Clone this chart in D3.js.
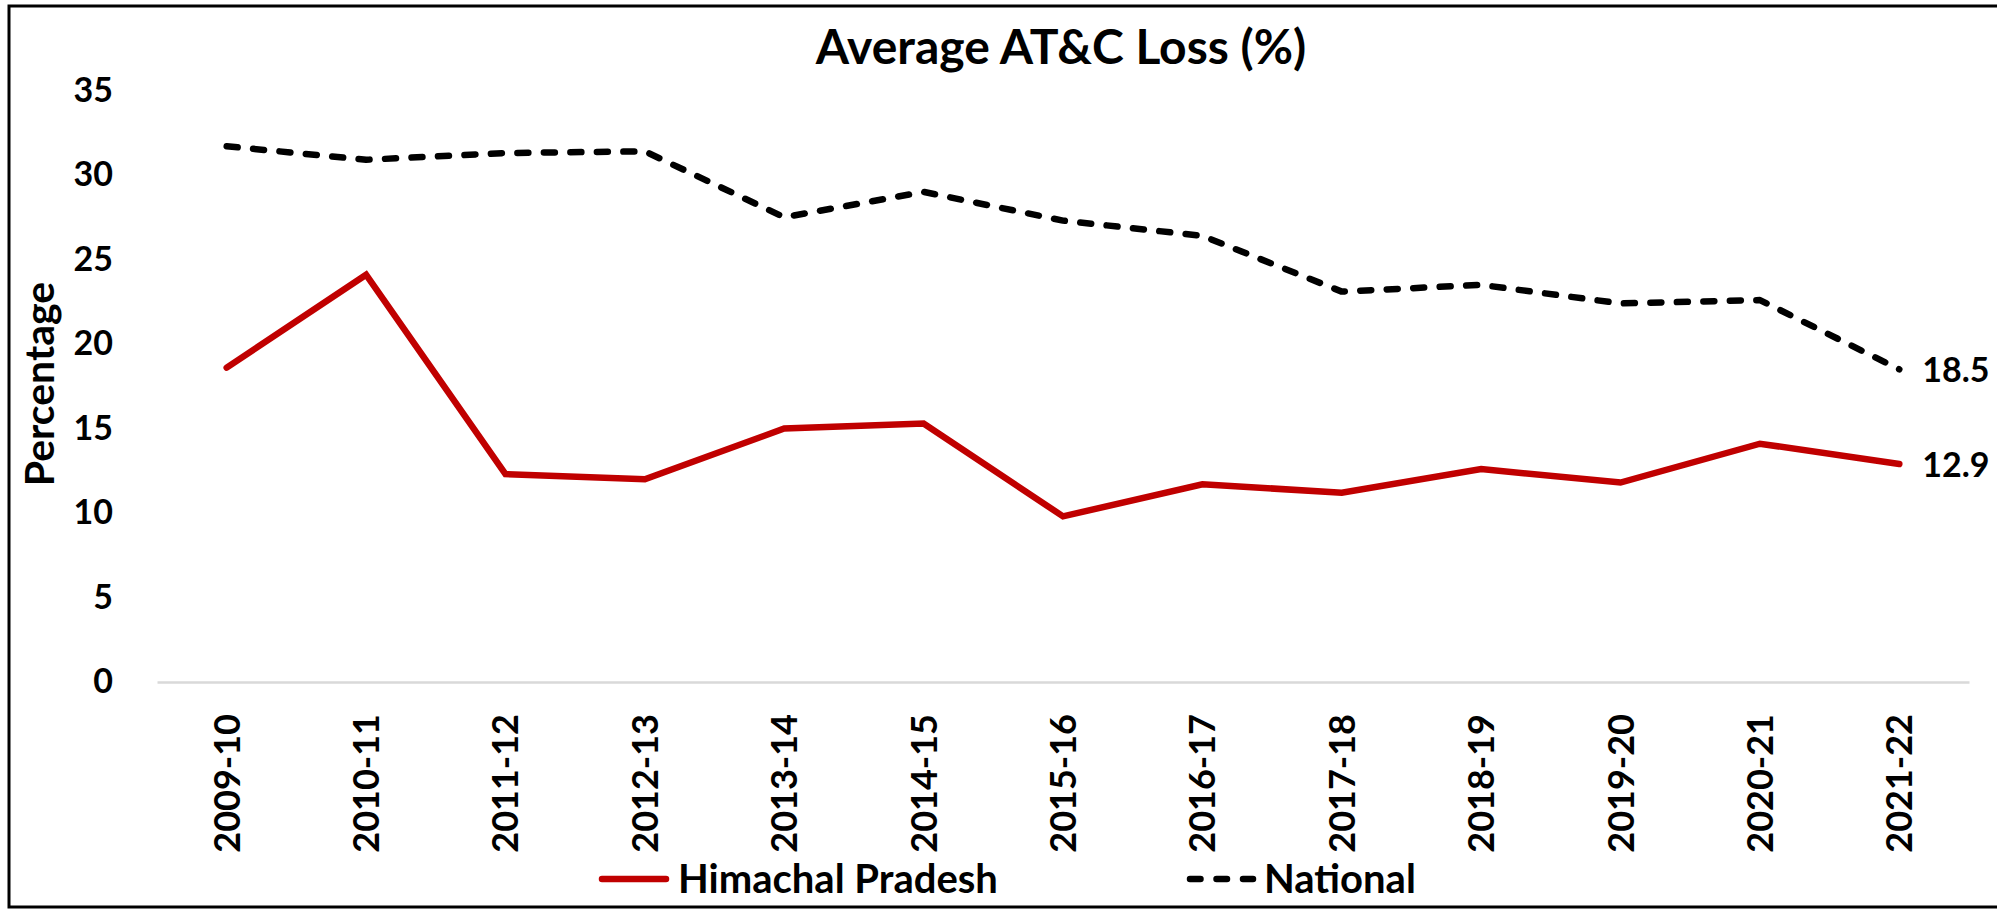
<!DOCTYPE html>
<html>
<head>
<meta charset="utf-8">
<script src="https://cdn.jsdelivr.net/npm/d3@7/dist/d3.min.js"></script>
<style>
  html, body { margin: 0; padding: 0; background: #ffffff; }
  svg { display: block; }
  text { font-family: "Lato", "Open Sans", sans-serif; font-weight: 700; fill: #000; }
</style>
</head>
<body>
<svg id="chart" width="1997" height="914"></svg>
<script>
// Financial years on the x axis
const categories = ["2009-10", "2010-11", "2011-12", "2012-13", "2013-14", "2014-15",
  "2015-16", "2016-17", "2017-18", "2018-19", "2019-20", "2020-21", "2021-22"];

// Average AT&C loss (%) by series
const himachalPradesh = [18.6, 24.1, 12.3, 12.0, 15.0, 15.3, 9.8, 11.7, 11.2, 12.6, 11.8, 14.1, 12.9];
const national = [31.7, 30.9, 31.3, 31.4, 27.5, 29.0, 27.3, 26.4, 23.1, 23.5, 22.4, 22.6, 18.5];

const yTickValues = [0, 5, 10, 15, 20, 25, 30, 35];
const seriesNames = ["Himachal Pradesh", "National"];

const svg = d3.select("#chart");
const W = 1997, H = 914;

// Outer frame
svg.append("rect")
  .attr("x", 9).attr("y", 6)
  .attr("width", W + 20).attr("height", 901)
  .attr("fill", "none").attr("stroke", "#000").attr("stroke-width", 3);

const plot = { left: 157, right: 1969, top: 90.5, bottom: 682 };

const x = d3.scaleBand().domain(categories).range([plot.left, plot.right]).padding(0);
const y = d3.scaleLinear().domain([0, 35]).range([plot.bottom, plot.top]);
const cx = c => x(c) + x.bandwidth() / 2;

// Title
svg.append("text")
  .attr("x", 1061).attr("y", 64)
  .attr("text-anchor", "middle")
  .attr("font-size", 48)
  .text("Average AT&C Loss (%)");

// Y axis (labels only)
const yAxis = svg.append("g")
  .attr("transform", `translate(${plot.left},0)`)
  .call(d3.axisLeft(y).tickValues(yTickValues).tickSize(0).tickPadding(44));
yAxis.select(".domain").remove();
yAxis.selectAll("text")
  .attr("font-size", 34)
  .attr("font-family", "Lato, sans-serif")
  .attr("font-weight", 700)
  .attr("fill", "#000");

// Y axis title
svg.append("text")
  .attr("transform", "translate(54,384) rotate(-90)")
  .attr("text-anchor", "middle")
  .attr("font-size", 41)
  .text("Percentage");

// X axis
const xAxis = svg.append("g")
  .attr("transform", `translate(0,${plot.bottom})`)
  .call(d3.axisBottom(x).tickSize(0));
xAxis.select(".domain")
  .attr("stroke", "#d9d9d9").attr("stroke-width", 2.5);
xAxis.selectAll("text")
  .attr("transform", "rotate(-90)")
  .attr("x", -32).attr("y", 0).attr("dy", "0.36em")
  .attr("text-anchor", "end")
  .attr("font-size", 36)
  .attr("font-family", "Lato, sans-serif")
  .attr("font-weight", 700)
  .attr("fill", "#000");

// Series lines
const line = d3.line()
  .x((d, i) => cx(categories[i]))
  .y(d => y(d));

svg.append("path")
  .datum(national)
  .attr("d", line)
  .attr("fill", "none")
  .attr("stroke", "#000")
  .attr("stroke-width", 6.5)
  .attr("stroke-linecap", "round")
  .attr("stroke-linejoin", "round")
  .attr("stroke-dasharray", "11,15.5");

svg.append("path")
  .datum(himachalPradesh)
  .attr("d", line)
  .attr("fill", "none")
  .attr("stroke", "#c00000")
  .attr("stroke-width", 6.5)
  .attr("stroke-linecap", "round")
  .attr("stroke-linejoin", "miter");

// End-of-series value labels
const last = categories.length - 1;
[national, himachalPradesh].forEach(vals => {
  svg.append("text")
    .attr("x", cx(categories[last]) + 23)
    .attr("y", y(vals[last]))
    .attr("dy", "0.38em")
    .attr("font-size", 34)
    .text(vals[last].toFixed(1));
});

// Legend
const legend = svg.append("g");
legend.append("line")
  .attr("x1", 602).attr("x2", 666).attr("y1", 879).attr("y2", 879)
  .attr("stroke", "#c00000").attr("stroke-width", 6.5).attr("stroke-linecap", "round");
legend.append("text")
  .attr("x", 678).attr("y", 879).attr("dy", "0.36em")
  .attr("font-size", 40)
  .text(seriesNames[0]);

legend.append("line")
  .attr("x1", 1190).attr("x2", 1253).attr("y1", 879).attr("y2", 879)
  .attr("stroke", "#000").attr("stroke-width", 6.5).attr("stroke-linecap", "round")
  .attr("stroke-dasharray", "10.5,16");
legend.append("text")
  .attr("x", 1264).attr("y", 879).attr("dy", "0.36em")
  .attr("font-size", 40)
  .text(seriesNames[1]);
</script>
</body>
</html>
